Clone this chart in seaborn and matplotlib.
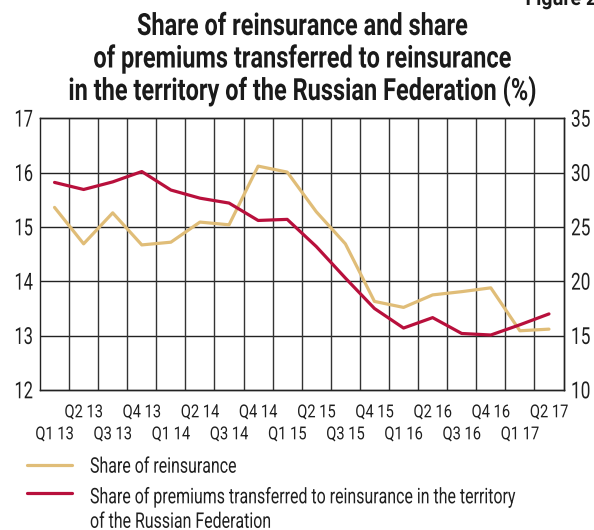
import matplotlib
matplotlib.use("Agg")
import matplotlib.pyplot as plt
from matplotlib.patheffects import AbstractPathEffect
from matplotlib.transforms import Affine2D
import seaborn as sns
import pandas as pd
import numpy as np

quarters = ["Q1 13", "Q2 13", "Q3 13", "Q4 13", "Q1 14", "Q2 14", "Q3 14", "Q4 14",
            "Q1 15", "Q2 15", "Q3 15", "Q4 15", "Q1 16", "Q2 16", "Q3 16", "Q4 16",
            "Q1 17", "Q2 17"]
share_reinsurance = [15.36, 14.69, 15.26, 14.67, 14.72, 15.09, 15.04, 16.12,
                     16.01, 15.28, 14.69, 13.63, 13.52, 13.75, 13.81, 13.88,
                     13.09, 13.12]
share_rf = [29.1, 28.45, 29.15, 30.1, 28.4, 27.65, 27.2, 25.6,
            25.7, 23.2, 20.3, 17.5, 15.7, 16.66, 15.2, 15.06,
            16.0, 17.0]
left_ticks = [12, 13, 14, 15, 16, 17]
right_ticks = [10, 15, 20, 25, 30, 35]
legend_labels = ["Share of reinsurance",
                 "Share of premiums transferred to reinsurance in the territory\nof the Russian Federation"]
title_lines = ["Share of reinsurance and share",
               "of premiums transferred to reinsurance",
               "in the territory of the Russian Federation (%)"]
figure_label = "Figure 2"

YELLOW = "#E0BD78"
RED = "#B8103C"
TXT = "#1f1f1f"
W, H = 594, 530

sns.set_theme(style="white")
plt.rcParams["font.family"] = ["Roboto", "DejaVu Sans"]


class Stretch(AbstractPathEffect):
    """Stretch glyph outlines vertically about the baseline (narrow-font look)."""

    def __init__(self, sy):
        super().__init__()
        self.sy = sy

    def draw_path(self, renderer, gc, tpath, affine, rgbFace=None):
        by = affine.get_matrix()[1, 2]
        aff = affine + Affine2D().translate(0, -by).scale(1, self.sy).translate(0, by)
        renderer.draw_path(gc, tpath, aff, rgbFace)


df = pd.DataFrame({"q": np.arange(len(quarters)), "a": share_reinsurance, "b": share_rf})

fig = plt.figure(figsize=(W / 100, H / 100), dpi=100)
L, R, T, B = 40, 563.5, 118.3, 390
ax = fig.add_axes([L / W, 1 - B / H, (R - L) / W, (B - T) / H])
ax2 = ax.twinx()

sns.lineplot(data=df, x="q", y="a", ax=ax, color=YELLOW, lw=2.3, zorder=3)
sns.lineplot(data=df, x="q", y="b", ax=ax2, color=RED, lw=2.3, zorder=3)

ax.set_xlim(-0.5, len(quarters) - 0.5)
ax.set_ylim(12, 17)
ax2.set_ylim(10, 35)
for a in (ax, ax2):
    a.set_xlabel("")
    a.set_ylabel("")
    a.set_xticks([])
    a.set_yticks([])
    for s in a.spines.values():
        s.set_color("#222222")
        s.set_linewidth(1.0)
ax2.spines["left"].set_visible(False)
ax2.patch.set_visible(False)

for yv in left_ticks[1:-1]:
    ax.axhline(yv, color="#222222", lw=1.0, zorder=1)
for xv in np.arange(0.5, len(quarters) - 1, 1.0):
    ax.axvline(xv, color="#333333", lw=1.0, zorder=1)

fig.canvas.draw()
rend = fig.canvas.get_renderer()


def fit(texts, target_w):
    """Shrink font so the widest text has target width, then stretch glyphs back to full height."""
    f0 = texts[0].get_fontsize()
    wmax = max(t.get_window_extent(rend).width for t in texts)
    f = f0 * target_w / wmax
    for t in texts:
        t.set_fontsize(f)
        t.set_path_effects([Stretch(f0 / f)])


# y tick labels
lt, rt = [], []
for v in left_ticks:
    lt.append(ax.annotate(str(v), (0, v), xycoords=("axes fraction", "data"),
                          xytext=(-7, -8.3), textcoords="offset pixels", ha="right",
                          va="baseline", fontsize=16.9, color=TXT,
                          annotation_clip=False))
for v in right_ticks:
    rt.append(ax2.annotate(str(v), (1, v), xycoords=("axes fraction", "data"),
                           xytext=(7.5, -8.3), textcoords="offset pixels", ha="left",
                           va="baseline", fontsize=16.9, color=TXT,
                           annotation_clip=False))
fit(lt, 18.5)
fit(rt, 19.5)

# x tick labels in two staggered rows
xt = []
for i, q in enumerate(quarters):
    yoff = -(417.3 - B) if i % 2 == 1 else -(439.3 - B)
    xt.append(ax.annotate(q, (i, 12), xytext=(0, yoff), textcoords="offset pixels",
                          ha="center", va="baseline", fontsize=12.9,
                          color=TXT, annotation_clip=False))
fit(xt, 38.5)

# title
tt = []
for line, base in zip(title_lines, [35, 67.5, 100]):
    tt.append(fig.text(302 / W, 1 - base / H, line, ha="center", va="baseline",
                       fontsize=22, fontweight="bold", color="#1a1a1a"))
fit(tt, 468)

fl = fig.text(597 / W, 1 - 5 / H, figure_label, ha="right", va="baseline",
              fontsize=15, fontweight="bold", color="#1a1a1a")
fit([fl], 72)

# legend
fig.add_artist(plt.Line2D([27 / W, 72 / W], [1 - 465 / H] * 2, color=YELLOW, lw=2.3,
                          transform=fig.transFigure))
fig.add_artist(plt.Line2D([27 / W, 72 / W], [1 - 493 / H] * 2, color=RED, lw=2.3,
                          transform=fig.transFigure))
leg_lines = [legend_labels[0]] + legend_labels[1].split("\n")
lg = []
for line, base in zip(leg_lines, [472.7, 503.3, 527.8]):
    lg.append(fig.text(90 / W, 1 - base / H, line, ha="left", va="baseline",
                       fontsize=15.5, color=TXT))
fit(lg, 425)

fig.savefig("out.png", dpi=100)
